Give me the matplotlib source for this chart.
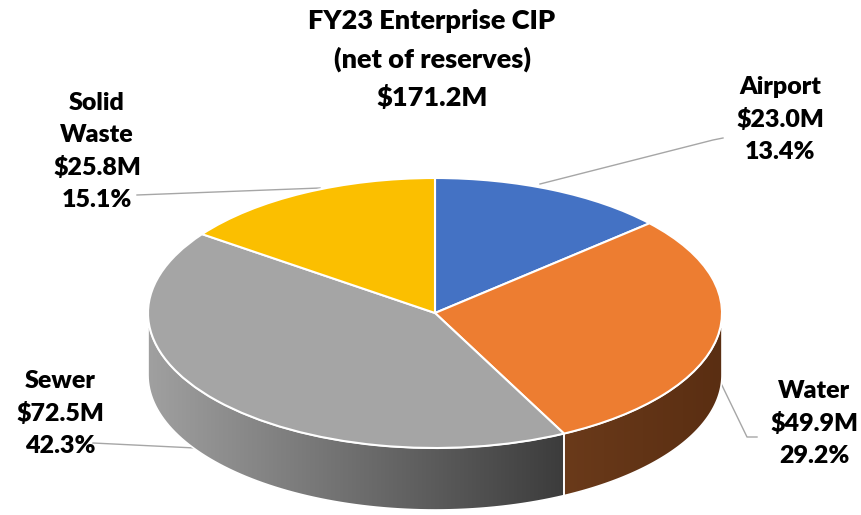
import matplotlib.pyplot as plt
import matplotlib.patches as mpatches
from matplotlib.transforms import Affine2D
from matplotlib.colors import LinearSegmentedColormap
import numpy as np

# data
categories = ['Airport', 'Water', 'Sewer', 'Solid\nWaste']
values = [23.0, 49.9, 72.5, 25.8]  # $M
percents = ['13.4%', '29.2%', '42.3%', '15.1%']
colors = ['#4472C4', '#ED7D31', '#A5A5A5', '#FBBF00']
title = 'FY23 Enterprise CIP\n(net of reserves)\n\\$171.2M'

plt.rcParams['font.family'] = ['Lato', 'DejaVu Sans']

fig = plt.figure(figsize=(8.61, 5.15), dpi=100)
ax = fig.add_axes([0, 0, 1, 1])

# ellipse geometry in pixel coords (y down)
cx, cy = 435, 313
rx, ry = 287, 135
depth = 62

wedges, _ = ax.pie(values, colors=colors, startangle=90, counterclock=False,
                   wedgeprops=dict(edgecolor='white', linewidth=1.5))
top = Affine2D().scale(rx, -ry).translate(cx, cy) + ax.transData
for w in wedges:
    w.set_transform(top)
    w.set_zorder(3)

# side walls of the visible front half
side_cols = [('#6a3a1a', '#5a2e12'), ('#6a3a1a', '#5a2e12'),
             ('#a0a0a0', '#3c3c3c'), ('#a0a0a0', '#3c3c3c')]
for w, sc in zip(wedges, side_cols):
    lo, hi = max(w.theta1, -180), min(w.theta2, 0)
    if hi <= lo:
        continue
    th = np.radians(np.linspace(lo, hi, 80))
    xs = cx + rx * np.cos(th)
    ys = cy - ry * np.sin(th)
    pts = np.vstack([np.column_stack([xs, ys]),
                     np.column_stack([xs[::-1], ys[::-1] + depth])])
    poly = mpatches.Polygon(pts, closed=True, facecolor='none',
                            edgecolor='white', linewidth=1.2, zorder=2)
    ax.add_patch(poly)
    grad = np.linspace(0, 1, 256).reshape(1, -1)
    cmap = LinearSegmentedColormap.from_list('side', list(sc))
    im = ax.imshow(grad, cmap=cmap, aspect='auto', zorder=1,
                   extent=[xs.min(), xs.max(), ys.max() + depth, ys.min()])
    im.set_clip_path(poly)

# title
ax.text(432, 9, title, ha='center', va='top', fontsize=19.5, fontweight='heavy',
        linespacing=1.62)

# labels with leader lines
label_pos = [(780, 76), (814, 380), (60, 370), (97, 92)]
leaders = [
    [(723, 138), (713, 140), (540, 184)],
    [(757, 437), (747, 437), (716, 373)],
    [(93, 443), (195, 448)],
    [(137, 195), (320, 188)],
]
for cat, v, p, (lx, ly), ld in zip(categories, values, percents, label_pos, leaders):
    ax.text(lx, ly, f'{cat}\n\\${v:.1f}M\n{p}', ha='center', va='top',
            fontsize=18, fontweight='heavy', linespacing=1.55)
    ld = np.array(ld)
    ax.plot(ld[:, 0], ld[:, 1], color='#a6a6a6', linewidth=1, zorder=0)

ax.set_xlim(0, 861)
ax.set_ylim(515, 0)
ax.set_aspect('auto')
ax.axis('off')

plt.savefig('out.png', dpi=100)
